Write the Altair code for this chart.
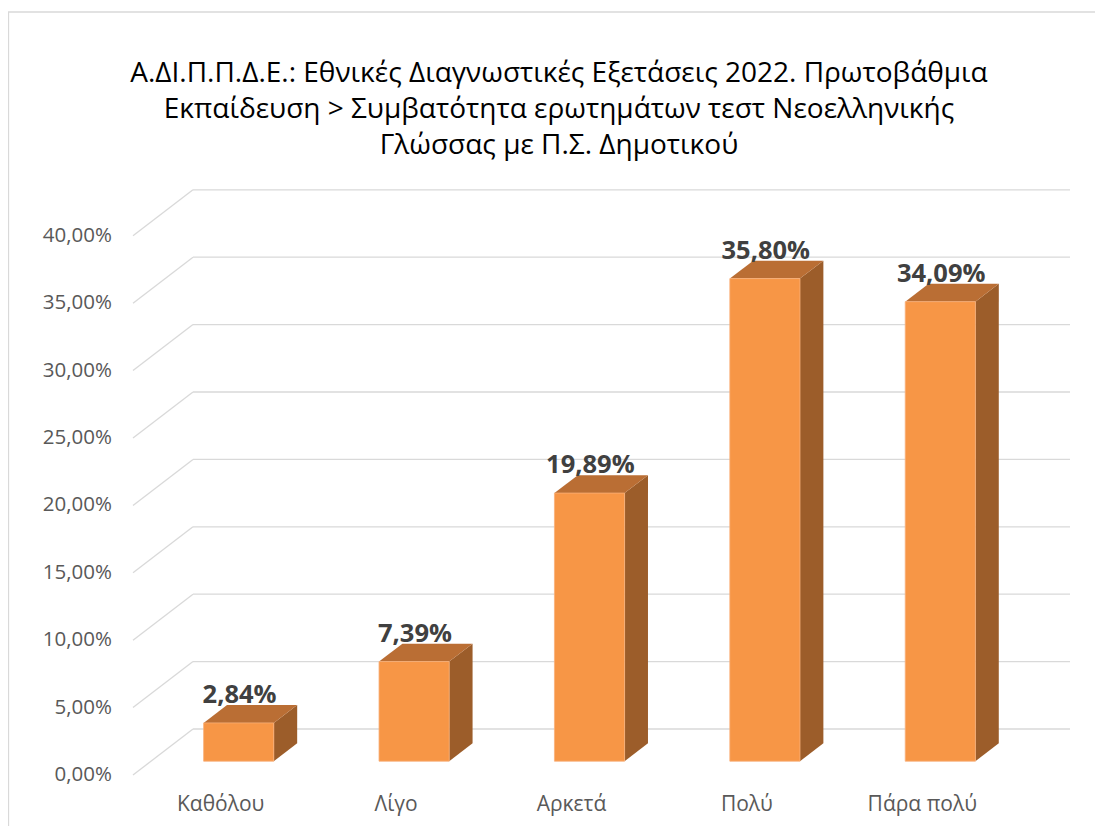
import altair as alt
import pandas as pd

# ---- data ----
categories = ["Καθόλου", "Λίγο", "Αρκετά", "Πολύ", "Πάρα πολύ"]
values = [2.84, 7.39, 19.89, 35.80, 34.09]
value_labels = ["2,84%", "7,39%", "19,89%", "35,80%", "34,09%"]
y_ticks = [0, 5, 10, 15, 20, 25, 30, 35, 40]
y_tick_labels = ["0,00%", "5,00%", "10,00%", "15,00%", "20,00%", "25,00%",
                 "30,00%", "35,00%", "40,00%"]
title_lines = ["Α.ΔΙ.Π.Π.Δ.Ε.: Εθνικές Διαγνωστικές Εξετάσεις 2022. Πρωτοβάθμια",
               "Εκπαίδευση > Συμβατότητα ερωτημάτων τεστ Νεοελληνικής",
               "Γλώσσας με Π.Σ. Δημοτικού"]

# ---- oblique 3D projection (style constants) ----
DX = 0.342   # x shift (category units) for full depth
DY = 3.412   # y shift (percent units) for full depth
D0, D1 = 0.30, 0.69  # bar depth (front, back)
HALF = 0.2           # half bar width in category units

FONT = "Open Sans"
W, H = 1087, 818
xs = alt.Scale(domain=[-0.5, 4.5 + DX], range=[125, 1062], nice=False, zero=False)
ys = alt.Scale(domain=[0, 40], range=[767, 227.8], nice=False, zero=False)

# gridlines
grid_rows = []
for t in y_ticks:
    grid_rows.append(dict(x=-0.5, y=t, x2=-0.5 + DX, y2=t + DY))
    grid_rows.append(dict(x=-0.5 + DX, y=t + DY, x2=4.5 + DX, y2=t + DY))
grid_df = pd.DataFrame(grid_rows)

front_rows, side_rows, top_rows, lab_rows = [], [], [], []
for i, (c, v, lab) in enumerate(zip(categories, values, value_labels)):
    front_rows.append(dict(cat=c, x=i - HALF + D0 * DX, x2=i + HALF + D0 * DX,
                           y=D0 * DY, y2=v + D0 * DY))
    for d in (D0, D1):
        side_rows.append(dict(cat=c, x=i + HALF + d * DX, yb=d * DY, yt=v + d * DY))
        top_rows.append(dict(cat=c, y=v + d * DY, x=i - HALF + d * DX, x2=i + HALF + d * DX))
    lab_rows.append(dict(cat=c, lab=lab, x=i + D0 * DX + 0.005, y=v + D1 * DY))
front_df = pd.DataFrame(front_rows)
side_df = pd.DataFrame(side_rows)
top_df = pd.DataFrame(top_rows)
lab_df = pd.DataFrame(lab_rows)
cat_df = pd.DataFrame(dict(cat=categories, x=list(range(len(categories)))))
ytick_df = pd.DataFrame(dict(y=y_ticks, lab=y_tick_labels))

grid = alt.Chart(grid_df).mark_rule(color="#D9D9D9", strokeWidth=1.3).encode(
    x=alt.X("x:Q", scale=xs, axis=None), y=alt.Y("y:Q", scale=ys, axis=None),
    x2="x2:Q", y2="y2:Q")

side = alt.Chart(side_df).mark_area(orient="vertical", color="#9C5D2A").encode(
    x=alt.X("x:Q", scale=xs, axis=None),
    y=alt.Y("yt:Q", scale=ys, axis=None, stack=None), y2="yb:Q",
    detail="cat:N")

top = alt.Chart(top_df).mark_area(orient="horizontal", color="#BA6E34").encode(
    y=alt.Y("y:Q", scale=ys, axis=None),
    x=alt.X("x:Q", scale=xs, axis=None, stack=None), x2="x2:Q",
    detail="cat:N")

front = alt.Chart(front_df).mark_rect(color="#F79646", stroke="#F9B07A", strokeWidth=0.8).encode(
    x=alt.X("x:Q", scale=xs, axis=None), x2="x2:Q",
    y=alt.Y("y:Q", scale=ys, axis=None), y2="y2:Q")

labels = alt.Chart(lab_df).mark_text(font=FONT, fontSize=25.5, fontWeight="bold",
                                     color="#404040", baseline="alphabetic", dy=-2).encode(
    x=alt.X("x:Q", scale=xs, axis=None), y=alt.Y("y:Q", scale=ys, axis=None),
    text="lab:N")

xlabels = alt.Chart(cat_df).mark_text(font=FONT, fontSize=21, color="#595959",
                                      baseline="middle").encode(
    x=alt.X("x:Q", scale=xs, axis=None), y=alt.value(797), text="cat:N")

ylabels = alt.Chart(ytick_df).mark_text(font=FONT, fontSize=20.5, color="#595959",
                                        baseline="middle", align="right").encode(
    x=alt.value(104), y=alt.Y("y:Q", scale=ys, axis=None), text="lab:N")

title = alt.Chart(pd.DataFrame({"t": [0]})).mark_text(
    font=FONT, fontSize=28, color="#000000", baseline="alphabetic",
    align="center", lineHeight=36).encode(
    x=alt.value(551), y=alt.value(74), text=alt.value(title_lines))

border_l = alt.Chart(pd.DataFrame({"t": [0]})).mark_rule(color="#D9D9D9", strokeWidth=1.3).encode(
    x=alt.value(0.5), y=alt.value(4), y2=alt.value(H))
border_t = alt.Chart(pd.DataFrame({"t": [0]})).mark_rule(color="#D9D9D9", strokeWidth=1.3).encode(
    x=alt.value(0), x2=alt.value(W), y=alt.value(4))

chart = alt.layer(border_l, border_t, grid, side, top, front, labels, xlabels, ylabels, title).properties(
    width=W, height=H, autosize=alt.AutoSizeParams(type="none"), padding=0,
    background="white"
).configure_view(stroke=None)

chart.save("out.html", embed_options={"renderer": "svg", "actions": False})
